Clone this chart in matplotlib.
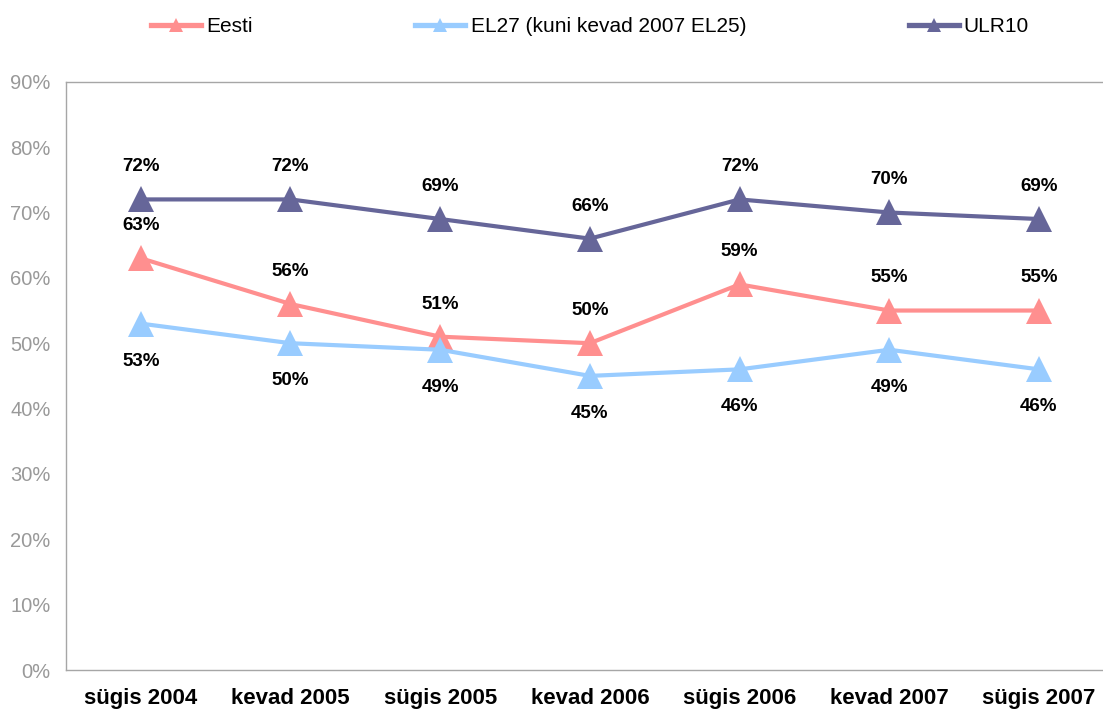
import numpy as np
import matplotlib
matplotlib.use('Agg')
import matplotlib.pyplot as plt

plt.rcParams['font.family'] = ['Liberation Sans', 'DejaVu Sans']

categories = ['sügis 2004', 'kevad 2005', 'sügis 2005', 'kevad 2006',
              'sügis 2006', 'kevad 2007', 'sügis 2007']
eesti = [63, 56, 51, 50, 59, 55, 55]
el27 = [53, 50, 49, 45, 46, 49, 46]
ulr10 = [72, 72, 69, 66, 72, 70, 69]
series_names = ['Eesti', 'EL27 (kuni kevad 2007 EL25)', 'ULR10']

colors = ['#FF8F8F', '#99CCFF', '#666699']
# label offset (points): above or below the marker
offsets = [23.5, -27, 23.5]

fig = plt.figure(figsize=(11.03, 7.13), dpi=100)
ax = fig.add_axes([0.0598, 0.0603, 0.950, 0.825])

x = np.arange(len(categories))
for vals, name, col, off in zip([eesti, el27, ulr10], series_names, colors, offsets):
    ax.plot(x, vals, color=col, lw=3, marker='^', markersize=19,
            markeredgewidth=0, label=name, zorder=3)
    for xi, v in zip(x, vals):
        ax.annotate('%d%%' % v, (xi, v), xytext=(0, off), textcoords='offset points',
                    ha='center', va='center', fontsize=13.5, fontweight='bold',
                    color='black', zorder=4)

ax.set_xlim(-0.5, 6.5)
ax.set_ylim(0, 90)
ax.set_yticks(np.arange(0, 91, 10))
ax.set_yticklabels(['%d%%' % t for t in range(0, 91, 10)], fontsize=14.5, color='#999999')
ax.set_xticks(x)
ax.set_xticklabels(categories, fontsize=16, fontweight='bold')
ax.tick_params(axis='y', length=0, pad=11)
ax.tick_params(axis='x', length=0, pad=13)
for sp in ax.spines.values():
    sp.set_color('#A6A6A6')
    sp.set_linewidth(1)
ax.spines['right'].set_visible(False)

handles, labels = ax.get_legend_handles_labels()
leg = fig.legend(handles, labels, loc='upper center', bbox_to_anchor=(0.535, 1.002),
                 ncol=3, frameon=False, fontsize=15, handlelength=2.4,
                 handletextpad=0.25, columnspacing=7.8, markerscale=0.55)
for ln in leg.get_lines():
    ln.set_linewidth(3.8)

fig.savefig('out.png', dpi=100)
